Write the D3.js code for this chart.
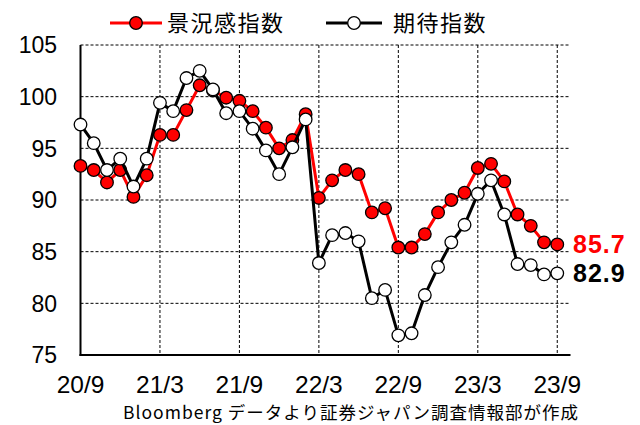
<!DOCTYPE html>
<html lang="ja">
<head>
<meta charset="UTF-8">
<title>景況感指数と期待指数</title>
<script src="https://d3js.org/d3.v7.min.js"></script>
<style>
  html, body { margin: 0; padding: 0; background: #fff; }
  svg { display: block; }
</style>
</head>
<body>
<svg width="640" height="425"></svg>
<script>
// monthly, 2020/9 .. 2023/9
const months = d3.range(37);
const tickMonths = [0, 6, 12, 18, 24, 30, 36];
const tickLabels = ["20/9", "21/3", "21/9", "22/3", "22/9", "23/3", "23/9"];
const yTicks = [75, 80, 85, 90, 95, 100, 105];

const keikyo = [93.3, 92.9, 91.7, 92.9, 90.3, 92.4, 96.3, 96.3, 98.7, 101.1,
                100.6, 99.9, 99.6, 98.6, 97.0, 95.0, 95.8, 98.3, 90.2, 91.9,
                92.9, 92.5, 88.8, 89.2, 85.4, 85.4, 86.7, 88.8, 90.0, 90.7,
                93.1, 93.5, 91.8, 88.6, 87.5, 85.9, 85.7];
const kitai = [97.3, 95.5, 92.9, 94.0, 91.3, 94.0, 99.4, 98.6, 101.8, 102.5,
               100.7, 98.4, 98.6, 96.9, 94.8, 92.5, 95.1, 97.8, 83.9, 86.6,
               86.8, 86.0, 80.5, 81.3, 76.9, 77.1, 80.8, 83.5, 85.9, 87.6,
               90.6, 91.9, 88.6, 83.8, 83.7, 82.8, 82.9];

const svg = d3.select("svg");
const x = d3.scaleLinear().domain([0, 37]).range([80.5, 570.5]);
const y = d3.scaleLinear().domain([75, 105]).range([355, 45]);

// grid
svg.append("g").selectAll("line")
    .data(yTicks.filter(d => d > 75))
    .enter().append("line")
    .attr("x1", x(0)).attr("x2", x(37))
    .attr("y1", d => y(d)).attr("y2", d => y(d))
    .attr("stroke", "#000").attr("stroke-width", 1)
    .attr("stroke-dasharray", "3,2");

svg.append("g").selectAll("line")
    .data(tickMonths.slice(1))
    .enter().append("line")
    .attr("x1", d => x(d)).attr("x2", d => x(d))
    .attr("y1", y(105)).attr("y2", y(75))
    .attr("stroke", "#000").attr("stroke-width", 1)
    .attr("stroke-dasharray", "3,2");

// axes
svg.append("line")
    .attr("x1", x(0)).attr("x2", x(0))
    .attr("y1", y(105)).attr("y2", y(75) + 1)
    .attr("stroke", "#000").attr("stroke-width", 2);
svg.append("line")
    .attr("x1", x(0) - 1).attr("x2", x(37))
    .attr("y1", y(75)).attr("y2", y(75))
    .attr("stroke", "#000").attr("stroke-width", 2);

svg.append("g").selectAll("text")
    .data(yTicks)
    .enter().append("text")
    .attr("x", 57)
    .attr("y", d => y(d))
    .attr("dy", "0.36em")
    .attr("text-anchor", "end")
    .attr("font-family", "Liberation Sans, Arial, sans-serif")
    .attr("font-size", 23)
    .text(d => d);

svg.append("g").selectAll("text")
    .data(tickMonths)
    .enter().append("text")
    .attr("x", d => x(d))
    .attr("y", 384)
    .attr("dy", "0.36em")
    .attr("text-anchor", "middle")
    .attr("font-family", "Liberation Sans, Arial, sans-serif")
    .attr("font-size", 24.5)
    .text((d, i) => tickLabels[i]);

svg.append("text")
    .attr("x", 123).attr("y", 419)
    .attr("font-family", "Noto Sans CJK JP, sans-serif")
    .attr("font-size", 17.5)
    .attr("letter-spacing", 1)
    .text("Bloomberg データより証券ジャパン調査情報部が作成");

const line = d3.line().x((d, i) => x(i)).y(d => y(d));

function series(data, stroke, fill) {
    const g = svg.append("g");
    g.append("path").datum(data)
        .attr("d", line)
        .attr("fill", "none")
        .attr("stroke", stroke)
        .attr("stroke-width", 3)
        .attr("stroke-linejoin", "round");
    g.selectAll("circle")
        .data(data)
        .enter().append("circle")
        .attr("cx", (d, i) => x(i))
        .attr("cy", d => y(d))
        .attr("r", 6.3)
        .attr("fill", fill)
        .attr("stroke", "#000")
        .attr("stroke-width", 1.3);
}
series(keikyo, "#ff0000", "#ff0000");
series(kitai, "#000", "#fff");

// end labels
svg.append("text")
    .attr("x", 573).attr("y", y(keikyo[36])).attr("dy", "0.36em")
    .attr("font-family", "Liberation Sans, Arial, sans-serif")
    .attr("font-weight", "bold").attr("font-size", 25)
    .attr("letter-spacing", 1)
    .attr("fill", "#ff0000")
    .text(keikyo[36].toFixed(1));
svg.append("text")
    .attr("x", 573).attr("y", y(kitai[36])).attr("dy", "0.36em")
    .attr("font-family", "Liberation Sans, Arial, sans-serif")
    .attr("font-weight", "bold").attr("font-size", 25)
    .attr("letter-spacing", 1)
    .attr("fill", "#000")
    .text(kitai[36].toFixed(1));

// legend
const legend = [
    { name: "景況感指数", stroke: "#ff0000", fill: "#ff0000", x0: 110, x1: 162, tx: 167 },
    { name: "期待指数", stroke: "#000", fill: "#fff", x0: 326, x1: 382, tx: 393 }
];
const lg = svg.append("g").selectAll("g").data(legend).enter().append("g");
lg.append("line")
    .attr("x1", d => d.x0).attr("x2", d => d.x1)
    .attr("y1", 23).attr("y2", 23)
    .attr("stroke", d => d.stroke).attr("stroke-width", 3);
lg.append("circle")
    .attr("cx", d => (d.x0 + d.x1) / 2).attr("cy", 23).attr("r", 6.3)
    .attr("fill", d => d.fill).attr("stroke", "#000").attr("stroke-width", 1.3);
lg.append("text")
    .attr("x", d => d.tx).attr("y", 23).attr("dy", "0.36em")
    .attr("font-family", "Noto Sans CJK JP, sans-serif")
    .attr("font-size", 22)
    .attr("letter-spacing", 1.5)
    .text(d => d.name);
</script>
</body>
</html>
